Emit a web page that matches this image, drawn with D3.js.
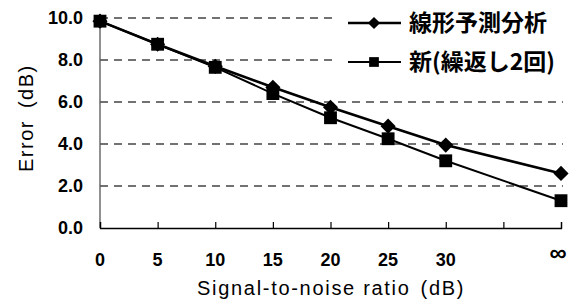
<!DOCTYPE html>
<html>
<head>
<meta charset="utf-8">
<script src="https://cdn.jsdelivr.net/npm/d3@7"></script>
<style>
  body { margin: 0; background: #fff; }
  svg { display: block; }
</style>
</head>
<body>
<div id="chart"></div>
<script>
// x categories (blank slot between 30 and ∞ as in the original)
const categories = ['0', '5', '10', '15', '20', '25', '30', '', '∞'];
const xKeys = ['0', '5', '10', '15', '20', '25', '30', '∞'];
const lpcValues = [9.85, 8.75, 7.7, 6.7, 5.75, 4.85, 3.95, 2.6];
const newValues = [9.85, 8.75, 7.65, 6.4, 5.25, 4.25, 3.2, 1.3];
const yTicks = [0, 2, 4, 6, 8, 10];
const seriesNames = ['線形予測分析', '新(繰返し2回)'];

const svg = d3.select('#chart')
  .append('svg')
  .attr('width', 573)
  .attr('height', 303);

const margin = { top: 18, right: 12, bottom: 75, left: 100 };
const width = 573 - margin.left - margin.right;
const height = 303 - margin.top - margin.bottom;

const x = d3.scalePoint().domain(categories).range([0, width]).padding(0);
const y = d3.scaleLinear().domain([0, 10]).range([height, 0]);

const g = svg.append('g')
  .attr('transform', `translate(${margin.left},${margin.top})`);

const numFont = '"Liberation Sans", Arial, sans-serif';

// dashed grid
g.append('g')
  .selectAll('line')
  .data(yTicks.filter(d => d > 0))
  .join('line')
  .attr('x1', 0)
  .attr('x2', width + 2)
  .attr('y1', d => y(d))
  .attr('y2', d => y(d))
  .attr('stroke', '#444')
  .attr('stroke-width', 1.3)
  .attr('stroke-dasharray', '8,6');

// y axis
g.append('line')
  .attr('x1', 0).attr('x2', 0)
  .attr('y1', y(10)).attr('y2', y(0))
  .attr('stroke', '#555')
  .attr('stroke-width', 1.3);

g.append('g')
  .selectAll('text')
  .data(yTicks)
  .join('text')
  .attr('x', -17)
  .attr('y', d => y(d))
  .attr('dy', '0.36em')
  .attr('text-anchor', 'end')
  .attr('font-family', numFont)
  .attr('font-weight', 'bold')
  .attr('font-size', 18)
  .text(d => d.toFixed(1));

// x axis (ticks point inward)
const xAxis = g.append('g')
  .attr('transform', `translate(0,${height})`)
  .call(d3.axisBottom(x).tickSize(-6).tickFormat(''));
xAxis.select('.domain').attr('stroke', '#000').attr('stroke-width', 1.3);
xAxis.selectAll('.tick line').attr('stroke', '#000').attr('stroke-width', 1.2);

g.append('g')
  .selectAll('text')
  .data(categories.filter(c => c !== ''))
  .join('text')
  .attr('x', d => d === '∞' ? x(d) - 3 : x(d))
  .attr('y', d => d === '∞' ? height + 24 : height + 32)
  .attr('dy', '0.36em')
  .attr('text-anchor', 'middle')
  .attr('font-family', numFont)
  .attr('font-weight', 'bold')
  .attr('font-size', d => d === '∞' ? 24 : 18)
  .text(d => d);

// axis titles
const xTitle = svg.append('text')
  .attr('x', 197)
  .attr('y', 288)
  .attr('dy', '0.36em')
  .attr('font-family', numFont)
  .attr('font-size', 20)
  .attr('letter-spacing', 1.7);
xTitle.append('tspan').text('Signal-to-noise ratio');
xTitle.append('tspan').attr('dx', 10).text('(dB)');

const yTitle = svg.append('text')
  .attr('transform', 'translate(26,172) rotate(-90)')
  .attr('dy', '0.36em')
  .attr('font-family', numFont)
  .attr('font-size', 20)
  .attr('letter-spacing', 1.5);
yTitle.append('tspan').text('Error');
yTitle.append('tspan').attr('dx', 12).text('(dB)');

// markers: diamond drawn as a square turned 45°
const markerPath = (type, size) => d3.symbol().type(d3.symbolSquare).size(size)();
const series = [
  { name: seriesNames[0], values: lpcValues, rot: 45, size: 115, legendSize: 75, lw: 2.6 },
  { name: seriesNames[1], values: newValues, rot: 0, size: 165, legendSize: 95, lw: 2 }
];

const line = d3.line()
  .x((d, i) => x(xKeys[i]))
  .y(d => y(d));

series.forEach(s => {
  g.append('path')
    .datum(s.values)
    .attr('fill', 'none')
    .attr('stroke', '#000')
    .attr('stroke-width', s.lw)
    .attr('d', line);
});

series.forEach(s => {
  g.append('g')
    .selectAll('path')
    .data(s.values)
    .join('path')
    .attr('transform', (d, i) => `translate(${x(xKeys[i])},${y(d)}) rotate(${s.rot})`)
    .attr('d', markerPath(null, s.size))
    .attr('fill', '#000');
});

// legend
const legend = svg.append('g');
legend.append('rect')
  .attr('x', 333).attr('y', 0)
  .attr('width', 240).attr('height', 82)
  .attr('fill', '#fff');

series.forEach((s, i) => {
  const ly = 23 + i * 39;
  legend.append('line')
    .attr('x1', 348).attr('x2', 401)
    .attr('y1', ly).attr('y2', ly)
    .attr('stroke', '#000')
    .attr('stroke-width', s.lw);
  legend.append('path')
    .attr('transform', `translate(374,${ly}) rotate(${s.rot})`)
    .attr('d', markerPath(null, s.legendSize))
    .attr('fill', '#000');
  legend.append('text')
    .attr('x', 409)
    .attr('y', ly)
    .attr('dy', '0.36em')
    .attr('font-family', '"Noto Sans CJK JP", sans-serif')
    .attr('font-weight', 'bold')
    .attr('font-size', 23)
    .text(s.name);
});
</script>
</body>
</html>
